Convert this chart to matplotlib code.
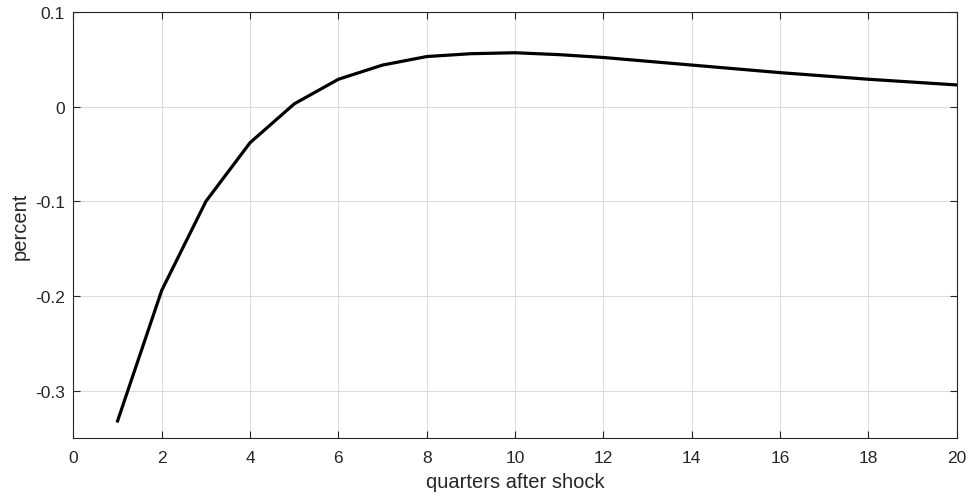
import matplotlib
matplotlib.use("Agg")
import matplotlib.pyplot as plt

plt.rcParams['font.family'] = ['Liberation Sans', 'DejaVu Sans']

quarters = [1, 2, 3, 4, 5, 6, 7, 8, 9, 10, 11, 12, 13, 14, 15, 16, 17, 18, 19, 20]
response = [-0.332, -0.194, -0.100, -0.038, 0.003, 0.029, 0.044, 0.053, 0.056, 0.057,
            0.055, 0.052, 0.048, 0.044, 0.040, 0.036, 0.0325, 0.029, 0.026, 0.023]

xticks = [0, 2, 4, 6, 8, 10, 12, 14, 16, 18, 20]
yticks = [-0.3, -0.2, -0.1, 0, 0.1]
ylabels = ['-0.3', '-0.2', '-0.1', '0', '0.1']

fig = plt.figure(figsize=(9.71, 5.02), dpi=100)
ax = fig.add_axes([0.0756, 0.1255, 0.9097, 0.8485])
ax.plot(quarters, response, color='black', lw=2.3)

ax.set_xlim(0, 20)
ax.set_ylim(-0.35, 0.1)
ax.set_xticks(xticks)
ax.set_yticks(yticks)
ax.set_yticklabels(ylabels)
ax.grid(True, color='#dcdcdc', lw=0.8)
ax.set_axisbelow(True)
ax.tick_params(direction='in', top=True, right=True, length=5, width=0.8,
               color='#262626', labelsize=12.5, labelcolor='#262626')
ax.tick_params(axis='x', pad=9)
ax.tick_params(axis='y', pad=6)
for s in ax.spines.values():
    s.set_color('#262626')
    s.set_linewidth(0.8)
ax.set_xlabel('quarters after shock', fontsize=14.5, color='#262626', labelpad=5)
ax.set_ylabel('percent', fontsize=14.5, color='#262626', labelpad=4)

fig.savefig('out.png', dpi=100)
